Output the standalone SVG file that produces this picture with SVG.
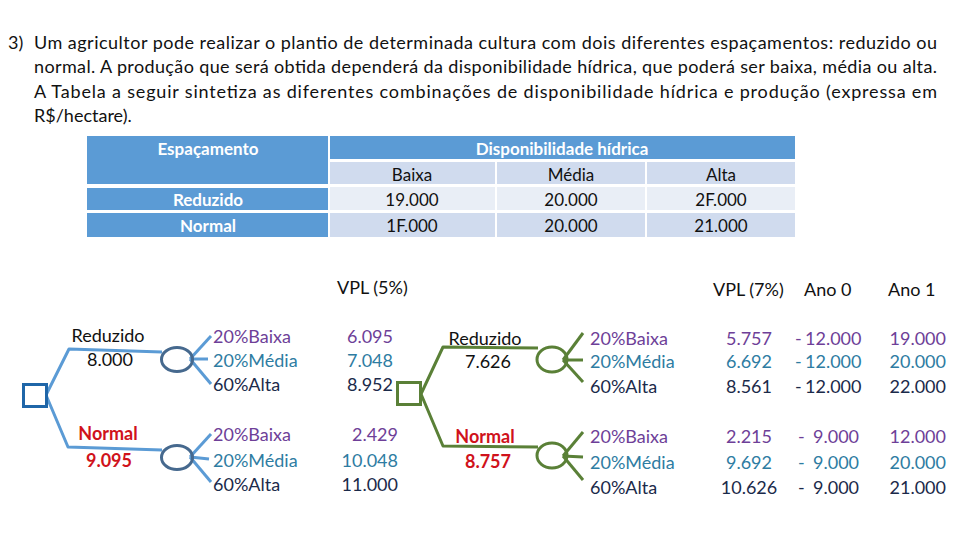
<svg xmlns="http://www.w3.org/2000/svg" width="960" height="540" viewBox="0 0 960 540">
<style>
text{font-family:Lato,"Open Sans","Liberation Sans",sans-serif;fill:#111;}
.body{font-size:18px;}
.tb{font-size:17px;}
.th{font-size:17px;font-weight:bold;fill:#fff;}
.t{font-size:18px;}
.c{text-anchor:middle;}
.e{text-anchor:end;}
.red{fill:#D0121B;font-weight:bold;}
.pu{fill:#6E3F98;}
.te{fill:#2E7CA2;}
.nv{fill:#1B2A4A;}
.hdr{fill:#5B9BD5;}
.l1{fill:#D0DBEE;}
.l2{fill:#E9EEF6;}
.bl{fill:none;stroke:#5B9BD5;stroke-width:3;stroke-linejoin:round;}
.gl{fill:none;stroke:#5A8037;stroke-width:3;stroke-linejoin:round;}
.bc{fill:none;stroke:#46698E;stroke-width:3;}
.gc{fill:none;stroke:#5A8037;stroke-width:3;}
</style>

<g id="enunciado">
<text class="body" x="8" y="49">3)</text>
<text class="body" x="34" y="49" textLength="903" lengthAdjust="spacing">Um agricultor pode realizar o plantio de determinada cultura com dois diferentes espaçamentos: reduzido ou</text>
<text class="body" x="34" y="73" textLength="903" lengthAdjust="spacing">normal. A produção que será obtida dependerá da disponibilidade hídrica, que poderá ser baixa, média ou alta.</text>
<text class="body" x="34" y="98" textLength="903" lengthAdjust="spacing">A Tabela a seguir sintetiza as diferentes combinações de disponibilidade hídrica e produção (expressa em</text>
<text class="body" x="34" y="122">R$/hectare).</text>
</g>

<g id="tabela">
<rect class="hdr" x="87" y="136" width="241" height="48"/>
<rect class="hdr" x="87" y="188" width="241" height="22"/>
<rect class="hdr" x="87" y="213" width="241" height="24"/>
<rect class="hdr" x="330" y="136" width="465" height="23"/>
<rect class="l1" x="330" y="162" width="165" height="22"/>
<rect class="l1" x="497" y="162" width="148" height="22"/>
<rect class="l1" x="647" y="162" width="148" height="22"/>
<rect class="l2" x="330" y="187" width="165" height="23"/>
<rect class="l2" x="497" y="187" width="148" height="23"/>
<rect class="l2" x="647" y="187" width="148" height="23"/>
<rect class="l1" x="330" y="213" width="165" height="24"/>
<rect class="l1" x="497" y="213" width="148" height="24"/>
<rect class="l1" x="647" y="213" width="148" height="24"/>
<text class="th c" x="208" y="155">Espaçamento</text>
<text class="th c" x="208" y="206">Reduzido</text>
<text class="th c" x="208" y="232">Normal</text>
<text class="th c" x="562" y="155">Disponibilidade hídrica</text>
<text class="tb c" x="412" y="181">Baixa</text>
<text class="tb c" x="571" y="181">Média</text>
<text class="tb c" x="721" y="181">Alta</text>
<text class="tb c" x="412" y="206">19.000</text>
<text class="tb c" x="571" y="206">20.000</text>
<text class="tb c" x="721" y="206">2F.000</text>
<text class="tb c" x="412" y="232">1F.000</text>
<text class="tb c" x="571" y="232">20.000</text>
<text class="tb c" x="721" y="232">21.000</text>
</g>

<g id="conectores">
<polyline class="bl" points="46,395 69,349 162,352"/>
<polyline class="bl" points="46,395 68,447 162,450"/>
<line class="bl" x1="190" y1="359" x2="211" y2="336"/>
<line class="bl" x1="190" y1="359" x2="208" y2="359"/>
<line class="bl" x1="190" y1="359" x2="211" y2="384"/>
<line class="bl" x1="190" y1="457" x2="211" y2="434"/>
<line class="bl" x1="190" y1="457" x2="209" y2="459"/>
<line class="bl" x1="190" y1="457" x2="211" y2="482"/>
<polyline class="gl" points="421,394 443,347 538,348"/>
<polyline class="gl" points="421,394 443,446 538,447"/>
<line class="gl" x1="563" y1="360" x2="583" y2="333"/>
<line class="gl" x1="563" y1="360" x2="583" y2="360"/>
<line class="gl" x1="563" y1="360" x2="583" y2="382"/>
<line class="gl" x1="563" y1="456" x2="583" y2="432"/>
<line class="gl" x1="563" y1="456" x2="583" y2="457"/>
<line class="gl" x1="563" y1="456" x2="583" y2="480"/>
</g>

<g id="decisao1">
<rect x="23.5" y="384.5" width="23" height="22" fill="#fff" stroke="#1F66A8" stroke-width="3"/>
</g>
<g id="acaso1a"><ellipse class="bc" cx="177" cy="359.5" rx="15.5" ry="12"/></g>
<g id="acaso1b"><ellipse class="bc" cx="177" cy="457.5" rx="15.5" ry="12"/></g>
<g id="decisao2">
<rect x="397.5" y="382.5" width="23" height="22" fill="#fff" stroke="#5A8037" stroke-width="3"/>
</g>
<g id="acaso2a"><ellipse class="gc" cx="552" cy="359.5" rx="15" ry="12.5"/></g>
<g id="acaso2b"><ellipse class="gc" cx="552" cy="455.5" rx="15" ry="12.5"/></g>

<g id="rotulos1">
<text class="t c" x="108" y="342">Reduzido</text>
<text class="t c" x="110" y="366">8.000</text>
<text class="t c red" x="108" y="440">Normal</text>
<text class="t c red" x="109" y="467">9.095</text>
<text class="t" x="337" y="294">VPL (5%)</text>
<text class="t pu" x="213" y="343">20%Baixa</text>
<text class="t te" x="213" y="367">20%Média</text>
<text class="t nv" x="213" y="391">60%Alta</text>
<text class="t pu" x="213" y="441">20%Baixa</text>
<text class="t te" x="213" y="467">20%Média</text>
<text class="t nv" x="213" y="491">60%Alta</text>
<text class="t e pu" x="393" y="343">6.095</text>
<text class="t e te" x="393" y="367">7.048</text>
<text class="t e nv" x="393" y="391">8.952</text>
<text class="t e pu" x="398" y="441">2.429</text>
<text class="t e te" x="398" y="467">10.048</text>
<text class="t e nv" x="398" y="491">11.000</text>
</g>

<g id="rotulos2">
<text class="t c" x="485" y="345">Reduzido</text>
<text class="t c" x="488" y="368">7.626</text>
<text class="t c red" x="485" y="443">Normal</text>
<text class="t c red" x="488" y="468">8.757</text>
<text class="t" x="713" y="296">VPL (7%)</text>
<text class="t" x="804" y="296">Ano 0</text>
<text class="t" x="888" y="296">Ano 1</text>
<text class="t pu" x="590" y="345">20%Baixa</text>
<text class="t te" x="590" y="368">20%Média</text>
<text class="t nv" x="590" y="393">60%Alta</text>
<text class="t pu" x="590" y="443">20%Baixa</text>
<text class="t te" x="590" y="469">20%Média</text>
<text class="t nv" x="590" y="494">60%Alta</text>
<text class="t c pu" x="749" y="345">5.757</text>
<text class="t c te" x="749" y="368">6.692</text>
<text class="t c nv" x="749" y="393">8.561</text>
<text class="t c pu" x="749" y="443">2.215</text>
<text class="t c te" x="749" y="469">9.692</text>
<text class="t c nv" x="749" y="494">10.626</text>
<text class="t pu" x="795" y="345">-<tspan x="805">12.000</tspan></text>
<text class="t te" x="795" y="368">-<tspan x="805">12.000</tspan></text>
<text class="t nv" x="795" y="393">-<tspan x="805">12.000</tspan></text>
<text class="t pu" x="798" y="443">-<tspan x="813">9.000</tspan></text>
<text class="t te" x="798" y="469">-<tspan x="813">9.000</tspan></text>
<text class="t nv" x="798" y="494">-<tspan x="813">9.000</tspan></text>
<text class="t e pu" x="946" y="345">19.000</text>
<text class="t e te" x="946" y="368">20.000</text>
<text class="t e nv" x="946" y="393">22.000</text>
<text class="t e pu" x="946" y="443">12.000</text>
<text class="t e te" x="946" y="469">20.000</text>
<text class="t e nv" x="946" y="494">21.000</text>
</g>
</svg>
